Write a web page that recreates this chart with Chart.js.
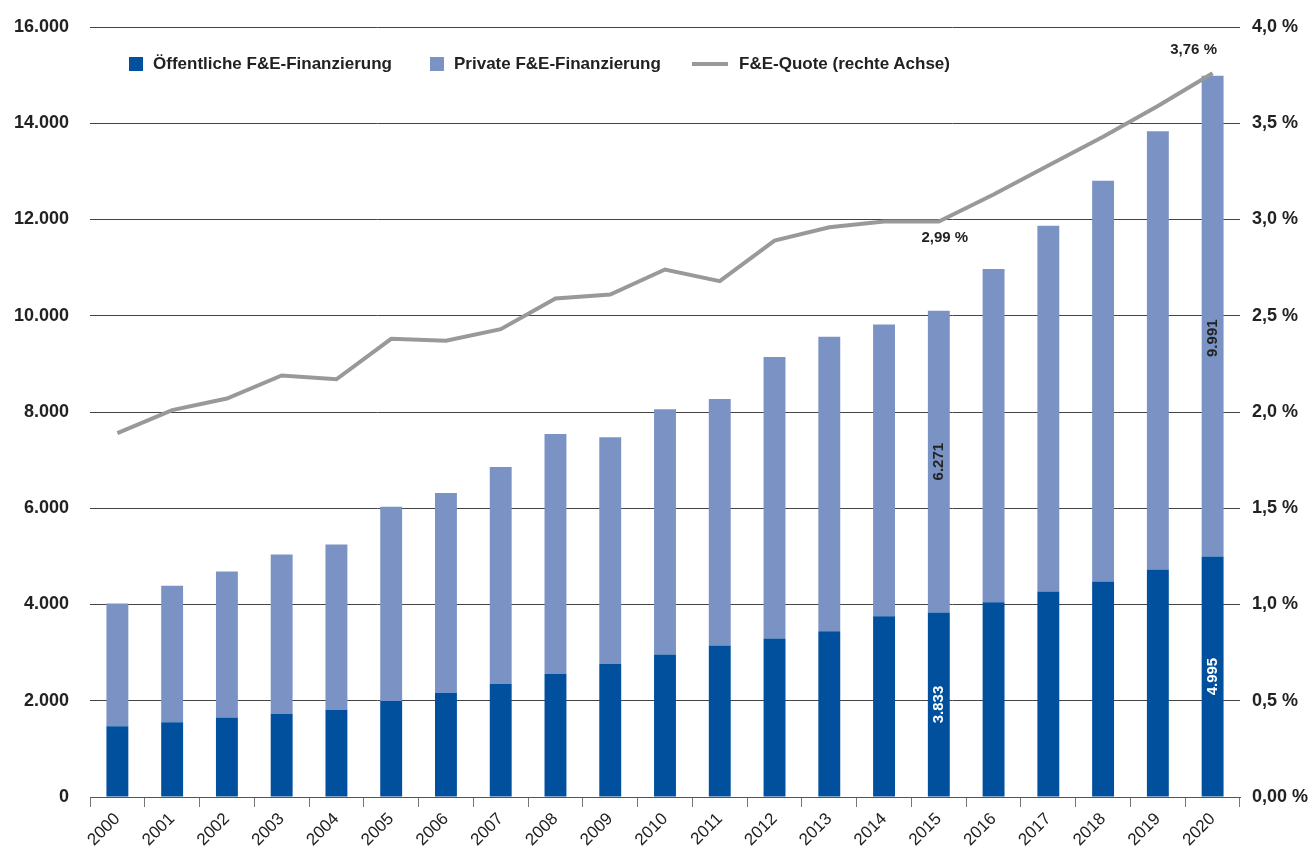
<!DOCTYPE html>
<html lang="de">
<head>
<meta charset="utf-8">
<title>F&amp;E-Finanzierung</title>
<script src="https://cdn.jsdelivr.net/npm/chart.js@4"></script>
<style>
    body { margin: 0; background: #fff; }
    .wrap { position: relative; width: 1311px; height: 846px; }
    .legend {
        position: absolute; top: 53px; left: 0; height: 22px; width: 1000px;
        font: bold 17px "Liberation Sans", Arial, sans-serif;
        color: #222;
    }
    .legend span.item { position: absolute; top: 0; display: flex; align-items: center; height: 22px; white-space: nowrap; }
    .legend i { display: inline-block; width: 14px; height: 14px; margin-right: 10px; }
    .legend i.line { width: 36px; height: 4px; margin-right: 11px; }
</style>
</head>
<body>
<div class="wrap">
    <canvas id="rdChart" width="1311" height="846"></canvas>
    <div class="legend" id="legend"></div>
</div>
<script>
const years = ["2000", "2001", "2002", "2003", "2004", "2005", "2006", "2007", "2008", "2009", "2010",
    "2011", "2012", "2013", "2014", "2015", "2016", "2017", "2018", "2019", "2020"];

// Mio. EUR
const publicFunding = [1470, 1555, 1650, 1730, 1812, 1995, 2165, 2352, 2558, 2762, 2962,
    3147, 3296, 3444, 3754, 3833, 4049, 4270, 4478, 4728, 4995];
const privateFunding = [2550, 2835, 3035, 3310, 3433, 4035, 4152, 4505, 4985, 4712, 5096,
    5123, 5846, 6120, 6066, 6271, 6921, 7599, 8329, 9106, 9991];

// Prozent
const quote = [1.89, 2.01, 2.07, 2.19, 2.17, 2.38, 2.37, 2.43, 2.59, 2.61, 2.74,
    2.68, 2.89, 2.96, 2.99, 2.99, 3.13, 3.28, 3.43, 3.59, 3.76];

const leftTicks = [0, 2000, 4000, 6000, 8000, 10000, 12000, 14000, 16000];
const rightTicks = [0, 0.5, 1.0, 1.5, 2.0, 2.5, 3.0, 3.5, 4.0];

const barLabelYears = ["2015", "2020"];
const lineLabelYears = ["2015", "2020"];

const seriesNames = ["Öffentliche F&E-Finanzierung", "Private F&E-Finanzierung", "F&E-Quote (rechte Achse)"];
const colors = ["#00509e", "#7b93c4", "#999999"];
const legendLeft = [129, 430, 692];

const FONT = '"Liberation Sans", Arial, sans-serif';

function fmtThousands(v) {
    return String(v).replace(/\B(?=(\d{3})+(?!\d))/g, ".");
}

function fmtPercent(v) {
    if (v === 0) return "0,00 %";
    return v.toFixed(1).replace(".", ",") + " %";
}

function buildLegend() {
    const el = document.getElementById("legend");
    seriesNames.forEach((name, i) => {
        const item = document.createElement("span");
        item.className = "item";
        item.style.left = legendLeft[i] + "px";
        const mark = document.createElement("i");
        if (i === 2) mark.className = "line";
        mark.style.background = colors[i];
        item.appendChild(mark);
        item.appendChild(document.createTextNode(name));
        el.appendChild(item);
    });
}

const valueLabels = {
    id: "valueLabels",
    afterDatasetsDraw(chart) {
        const ctx = chart.ctx;
        ctx.save();
        ctx.textAlign = "center";
        ctx.textBaseline = "middle";
        ctx.font = "bold 15px " + FONT;

        [0, 1].forEach(ds => {
            const meta = chart.getDatasetMeta(ds);
            barLabelYears.forEach(y => {
                const i = years.indexOf(y);
                const bar = meta.data[i];
                const val = chart.data.datasets[ds].data[i];
                let cy = (bar.y + bar.base) / 2;
                if (ds === 1 && i === years.length - 1) cy += 22;
                ctx.save();
                ctx.translate(bar.x, cy);
                ctx.rotate(-Math.PI / 2);
                ctx.fillStyle = ds === 0 ? "#ffffff" : "#222222";
                ctx.fillText(fmtThousands(val), 0, 0);
                ctx.restore();
            });
        });

        const lineMeta = chart.getDatasetMeta(2);
        ctx.fillStyle = "#222222";
        ctx.font = "bold 15px " + FONT;
        lineLabelYears.forEach((y, k) => {
            const i = years.indexOf(y);
            const pt = lineMeta.data[i];
            const txt = quote[i].toFixed(2).replace(".", ",") + " %";
            if (k === 0) ctx.fillText(txt, pt.x + 6, pt.y + 16);
            else ctx.fillText(txt, pt.x - 19, pt.y - 23);
        });
        ctx.restore();
    }
};

function fitY(width) {
    return scale => {
        scale.width = width;
        scale.paddingTop = 0;
        scale.paddingBottom = 0;
    };
}

function drawChart() {
    const ctx = document.getElementById("rdChart").getContext("2d");

    new Chart(ctx, {
        type: "bar",
        data: {
            labels: years,
            datasets: [
                {
                    label: seriesNames[0],
                    data: publicFunding,
                    backgroundColor: colors[0],
                    stack: "f",
                    yAxisID: "y",
                    order: 1
                },
                {
                    label: seriesNames[1],
                    data: privateFunding,
                    backgroundColor: colors[1],
                    stack: "f",
                    yAxisID: "y",
                    order: 1
                },
                {
                    type: "line",
                    label: seriesNames[2],
                    data: quote,
                    borderColor: colors[2],
                    borderWidth: 4,
                    pointRadius: 0,
                    tension: 0,
                    yAxisID: "y1",
                    order: 0
                }
            ]
        },
        options: {
            responsive: false,
            animation: false,
            devicePixelRatio: 1,
            layout: { padding: { top: 27, left: 0, right: 0, bottom: 0 } },
            datasets: {
                bar: { barPercentage: 0.4, categoryPercentage: 1.0 }
            },
            plugins: {
                legend: { display: false },
                tooltip: { enabled: false }
            },
            scales: {
                x: {
                    stacked: true,
                    grid: {
                        offset: true,
                        drawOnChartArea: false,
                        drawTicks: true,
                        tickLength: 10,
                        color: "#777777"
                    },
                    border: { display: true, color: "#555555", width: 1 },
                    ticks: {
                        color: "#222222",
                        font: { family: FONT, size: 17 },
                        minRotation: 45,
                        maxRotation: 45,
                        autoSkip: false,
                        padding: 2
                    },
                    afterFit(scale) {
                        scale.height = 49;
                        scale.paddingLeft = 0;
                        scale.paddingRight = 0;
                    }
                },
                y: {
                    stacked: true,
                    position: "left",
                    min: 0,
                    max: 16000,
                    afterBuildTicks(scale) { scale.ticks = leftTicks.map(v => ({ value: v })); },
                    grid: { color: "#444444", lineWidth: 1, drawTicks: false },
                    border: { display: false },
                    ticks: {
                        color: "#222222",
                        font: { family: FONT, size: 18, weight: "bold" },
                        padding: 21,
                        callback: v => fmtThousands(v)
                    },
                    afterFit: fitY(90)
                },
                y1: {
                    position: "right",
                    min: 0,
                    max: 4,
                    afterBuildTicks(scale) { scale.ticks = rightTicks.map(v => ({ value: v })); },
                    grid: { drawOnChartArea: false, drawTicks: false },
                    border: { display: false },
                    ticks: {
                        color: "#222222",
                        font: { family: FONT, size: 18, weight: "bold" },
                        padding: 12,
                        callback: v => fmtPercent(v)
                    },
                    afterFit: fitY(71)
                }
            }
        },
        plugins: [valueLabels]
    });
}

buildLegend();
drawChart();
</script>
</body>
</html>
